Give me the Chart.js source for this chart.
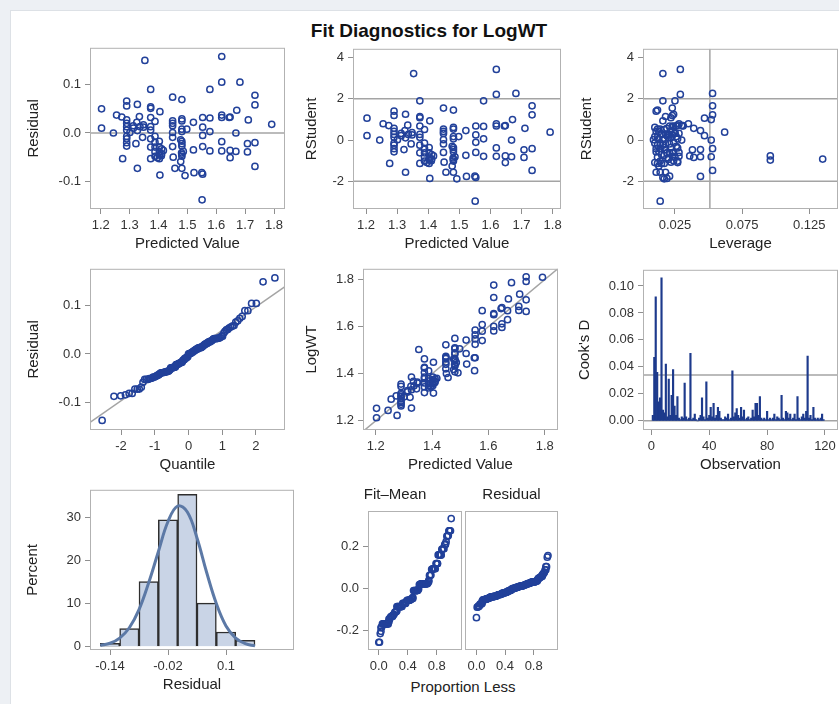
<!DOCTYPE html>
<html>
<head>
<meta charset="utf-8">
<title>Fit Diagnostics for LogWT</title>
<script src="https://cdn.jsdelivr.net/npm/chart.js@4.4.1/dist/chart.umd.min.js"></script>
<style>
  html, body { margin: 0; padding: 0; }
  body { width: 839px; height: 704px; overflow: hidden; background: #edf0f4; position: relative;
         font-family: "Liberation Sans", Arial, sans-serif; }
  #sheet { position: absolute; left: 10px; top: 10px; width: 840px; height: 700px; background: #fff;
           border-left: 1px solid #dde1e6; border-top: 1px solid #dde1e6; }
  canvas { position: absolute; }
  .label { position: absolute; transform: translate(-50%, -50%); white-space: nowrap; color: #111; }
  #title { left: 429px; top: 31px; font-weight: bold; font-size: 19px; }
  #propLess { left: 463px; top: 686px; font-size: 15px; color: #222; }
</style>
</head>
<body>
<div id="sheet"></div>
<div id="title" class="label">Fit Diagnostics for LogWT</div>
<div id="propLess" class="label">Proportion Less</div>
<script>
// Fit diagnostics panel for LogWT

// ---- per observation values ----
const predicted = [
  1.353, 1.619, 1.619, 1.682, 1.373, 1.578, 1.734, 1.449, 1.481, 1.290,
  1.290, 1.327, 1.373, 1.373, 1.734, 1.203, 1.405, 1.671, 1.255, 1.273,
  1.334, 1.373, 1.619, 1.619, 1.648, 1.553, 1.578, 1.711, 1.481, 1.481,
  1.449, 1.449, 1.290, 1.290, 1.325, 1.388, 1.521, 1.792, 1.203, 1.290,
  1.313, 1.336, 1.348, 1.373, 1.553, 1.498, 1.481, 1.449, 1.244, 1.301,
  1.327, 1.449, 1.481, 1.578, 1.668, 1.290, 1.313, 1.348, 1.373, 1.645,
  1.290, 1.290, 1.345, 1.388, 1.553, 1.290, 1.290, 1.322, 1.373, 1.403,
  1.388, 1.481, 1.481, 1.477, 1.619, 1.708, 1.734, 1.373, 1.388, 1.411,
  1.449, 1.481, 1.486, 1.521, 1.553, 1.578, 1.619, 1.648, 1.668, 1.708,
  1.403, 1.449, 1.403, 1.417, 1.388, 1.480, 1.411, 1.403, 1.388, 1.373,
  1.403, 1.451, 1.276, 1.481, 1.477, 1.648, 1.327, 1.457, 1.481, 1.734,
  1.481, 1.396, 1.410, 1.405, 1.492, 1.523, 1.550, 1.553, 1.551
];
const residual = [
  0.150, 0.158, 0.105, 0.105, 0.090, 0.090, 0.078, 0.074, 0.069, 0.066,
  0.056, 0.059, 0.054, 0.051, 0.058, 0.050, 0.044, 0.047, 0.037, 0.033,
  0.034, 0.032, 0.037, 0.032, 0.033, 0.032, 0.031, 0.027, 0.029, 0.025,
  0.025, 0.020, 0.027, 0.020, 0.022, 0.024, 0.022, 0.018, 0.010, 0.013,
  0.015, 0.013, 0.012, 0.013, 0.012, 0.008, 0.008, 0.015, 0.000, 0.001,
  0.005, 0.001, 0.003, 0.003, 0.000, 0.006, 0.010, 0.017, 0.006, 0.032,
  -0.007, -0.012, -0.009, -0.007, -0.005, -0.020, -0.027, -0.022, -0.012, -0.017,
  -0.019, -0.017, -0.022, -0.014, -0.018, -0.022, -0.020, -0.029, -0.029, -0.033,
  -0.028, -0.027, -0.038, -0.035, -0.028, -0.037, -0.037, -0.036, -0.038, -0.039,
  -0.039, -0.009, -0.029, -0.036, -0.039, -0.041, -0.043, -0.045, -0.048, -0.053,
  -0.053, -0.050, -0.053, -0.048, -0.059, -0.051, -0.073, -0.073, -0.073, -0.069,
  -0.044, -0.051, -0.047, -0.087, -0.088, -0.082, -0.082, -0.085, -0.138
];
const rstudent = [
  3.22, 3.42, 2.21, 2.26, 1.90, 1.90, 1.66, 1.55, 1.45, 1.40,
  1.19, 1.25, 1.14, 1.08, 1.22, 1.06, 0.93, 0.99, 0.79, 0.70,
  0.72, 0.68, 0.78, 0.68, 0.70, 0.68, 0.66, 0.57, 0.61, 0.53,
  0.53, 0.42, 0.57, 0.42, 0.46, 0.51, 0.46, 0.38, 0.21, 0.27,
  0.32, 0.27, 0.25, 0.27, 0.25, 0.17, 0.17, 0.32, 0.00, 0.02,
  0.11, 0.02, 0.06, 0.06, 0.00, 0.13, 0.21, 0.36, 0.13, 0.68,
  -0.15, -0.25, -0.19, -0.15, -0.11, -0.42, -0.57, -0.46, -0.25, -0.36,
  -0.40, -0.36, -0.46, -0.30, -0.38, -0.47, -0.42, -0.62, -0.62, -0.70,
  -0.60, -0.57, -0.81, -0.74, -0.60, -0.79, -0.79, -0.77, -0.81, -0.84,
  -0.83, -0.19, -0.62, -0.77, -0.83, -0.87, -0.92, -0.97, -1.02, -1.13,
  -1.13, -1.07, -1.13, -1.02, -1.26, -1.09, -1.56, -1.56, -1.56, -1.47,
  -0.94, -1.09, -1.00, -1.86, -1.88, -1.76, -1.75, -1.81, -2.96
];
const leverage = [
  0.016, 0.029, 0.029, 0.053, 0.016, 0.025, 0.053, 0.023, 0.012, 0.011,
  0.023, 0.024, 0.018, 0.022, 0.053, 0.047, 0.016, 0.052, 0.035, 0.030,
  0.027, 0.024, 0.028, 0.026, 0.031, 0.021, 0.023, 0.039, 0.010, 0.012,
  0.014, 0.011, 0.019, 0.013, 0.044, 0.017, 0.022, 0.062, 0.047, 0.021,
  0.025, 0.018, 0.023, 0.015, 0.020, 0.010, 0.026, 0.028, 0.052, 0.016,
  0.022, 0.009, 0.013, 0.027, 0.030, 0.012, 0.019, 0.025, 0.020, 0.031,
  0.014, 0.016, 0.021, 0.010, 0.024, 0.011, 0.013, 0.018, 0.012, 0.022,
  0.014, 0.017, 0.044, 0.026, 0.027, 0.038, 0.053, 0.019, 0.023, 0.015,
  0.028, 0.011, 0.044, 0.017, 0.024, 0.023, 0.028, 0.036, 0.052, 0.039,
  0.012, 0.018, 0.021, 0.096, 0.025, 0.020, 0.135, 0.096, 0.014, 0.012,
  0.017, 0.022, 0.015, 0.027, 0.013, 0.027, 0.011, 0.014, 0.018, 0.053,
  0.020, 0.010, 0.024, 0.019, 0.017, 0.044, 0.021, 0.016, 0.014
];
const logWT = [
  1.503, 1.777, 1.724, 1.787, 1.463, 1.668, 1.812, 1.523, 1.550, 1.356,
  1.346, 1.386, 1.427, 1.424, 1.792, 1.253, 1.449, 1.718, 1.292, 1.306,
  1.368, 1.405, 1.656, 1.651, 1.681, 1.585, 1.609, 1.738, 1.510, 1.506,
  1.474, 1.469, 1.317, 1.310, 1.347, 1.412, 1.543, 1.810, 1.213, 1.303,
  1.328, 1.349, 1.360, 1.386, 1.565, 1.506, 1.489, 1.464, 1.244, 1.302,
  1.332, 1.450, 1.484, 1.581, 1.668, 1.296, 1.323, 1.365, 1.379, 1.677,
  1.283, 1.278, 1.336, 1.381, 1.548, 1.270, 1.263, 1.300, 1.361, 1.386,
  1.369, 1.464, 1.459, 1.463, 1.601, 1.686, 1.714, 1.344, 1.359, 1.378,
  1.421, 1.454, 1.448, 1.486, 1.525, 1.541, 1.582, 1.612, 1.630, 1.669,
  1.364, 1.440, 1.374, 1.381, 1.349, 1.439, 1.368, 1.358, 1.340, 1.320,
  1.350, 1.401, 1.223, 1.433, 1.418, 1.597, 1.254, 1.384, 1.408, 1.665,
  1.437, 1.345, 1.363, 1.318, 1.404, 1.441, 1.468, 1.468, 1.413
];
const cooksD = [
  0.004, 0.047, 0.092, 0.036, 0.014, 0.017, 0.106, 0.008, 0.006, 0.042,
  0.003, 0.031, 0.004, 0.019, 0.038, 0.011, 0.004, 0.018, 0.002, 0.001,
  0.003, 0.002, 0.028, 0.003, 0.001, 0.002, 0.050, 0.001, 0.002, 0.005,
  0.001, 0.000, 0.002, 0.004, 0.017, 0.003, 0.001, 0.029, 0.002, 0.004,
  0.010, 0.003, 0.013, 0.002, 0.004, 0.010, 0.007, 0.002, 0.001, 0.001,
  0.003, 0.002, 0.005, 0.001, 0.002, 0.037, 0.003, 0.006, 0.009, 0.004,
  0.002, 0.010, 0.003, 0.008, 0.001, 0.002, 0.003, 0.001, 0.002, 0.008,
  0.003, 0.013, 0.013, 0.004, 0.018, 0.002, 0.001, 0.002, 0.001, 0.007,
  0.001, 0.002, 0.001, 0.002, 0.005, 0.001, 0.003, 0.002, 0.001, 0.019,
  0.002, 0.001, 0.007, 0.006, 0.002, 0.005, 0.001, 0.002, 0.005, 0.001,
  0.018, 0.002, 0.001, 0.003, 0.005, 0.002, 0.007, 0.048, 0.002, 0.004,
  0.001, 0.010, 0.002, 0.001, 0.002, 0.001, 0.002, 0.005, 0.001
];

// ---- sorted views (Q-Q and residual-fit spread) ----
const normalQuantile = [
  -2.56, -2.21, -2.01, -1.87, -1.76, -1.67, -1.59, -1.52, -1.46, -1.40,
  -1.35, -1.30, -1.25, -1.20, -1.16, -1.12, -1.08, -1.05, -1.01, -0.98,
  -0.94, -0.91, -0.88, -0.85, -0.82, -0.79, -0.76, -0.73, -0.71, -0.68,
  -0.65, -0.63, -0.60, -0.58, -0.55, -0.53, -0.50, -0.48, -0.46, -0.43,
  -0.41, -0.39, -0.37, -0.34, -0.32, -0.30, -0.28, -0.26, -0.23, -0.21,
  -0.19, -0.17, -0.15, -0.13, -0.11, -0.08, -0.06, -0.04, -0.02, 0.00,
  0.02, 0.04, 0.06, 0.08, 0.11, 0.13, 0.15, 0.17, 0.19, 0.21,
  0.23, 0.26, 0.28, 0.30, 0.32, 0.34, 0.37, 0.39, 0.41, 0.43,
  0.46, 0.48, 0.50, 0.53, 0.55, 0.58, 0.60, 0.63, 0.65, 0.68,
  0.71, 0.73, 0.76, 0.79, 0.82, 0.85, 0.88, 0.91, 0.94, 0.98,
  1.01, 1.05, 1.08, 1.12, 1.16, 1.20, 1.25, 1.30, 1.35, 1.40,
  1.46, 1.52, 1.59, 1.67, 1.76, 1.87, 2.01, 2.21, 2.56
];
const proportionLess = [
  0.00, 0.01, 0.02, 0.03, 0.03, 0.04, 0.05, 0.06, 0.07, 0.08,
  0.08, 0.09, 0.10, 0.11, 0.12, 0.13, 0.14, 0.14, 0.15, 0.16,
  0.17, 0.18, 0.19, 0.19, 0.20, 0.21, 0.22, 0.23, 0.24, 0.25,
  0.25, 0.26, 0.27, 0.28, 0.29, 0.30, 0.31, 0.31, 0.32, 0.33,
  0.34, 0.35, 0.36, 0.36, 0.37, 0.38, 0.39, 0.40, 0.41, 0.42,
  0.42, 0.43, 0.44, 0.45, 0.46, 0.47, 0.47, 0.48, 0.49, 0.50,
  0.51, 0.52, 0.53, 0.53, 0.54, 0.55, 0.56, 0.57, 0.58, 0.58,
  0.59, 0.60, 0.61, 0.62, 0.63, 0.64, 0.64, 0.65, 0.66, 0.67,
  0.68, 0.69, 0.69, 0.70, 0.71, 0.72, 0.73, 0.74, 0.75, 0.75,
  0.76, 0.77, 0.78, 0.79, 0.80, 0.81, 0.81, 0.82, 0.83, 0.84,
  0.85, 0.86, 0.86, 0.87, 0.88, 0.89, 0.90, 0.91, 0.92, 0.92,
  0.93, 0.94, 0.95, 0.96, 0.97, 0.97, 0.98, 0.99, 1.00
];
const fitMinusMean = [
  -0.255, -0.255, -0.214, -0.203, -0.185, -0.182, -0.168, -0.168, -0.168, -0.168,
  -0.168, -0.168, -0.168, -0.168, -0.168, -0.168, -0.157, -0.145, -0.145, -0.136,
  -0.133, -0.131, -0.131, -0.131, -0.124, -0.122, -0.113, -0.110, -0.110, -0.105,
  -0.085, -0.085, -0.085, -0.085, -0.085, -0.085, -0.085, -0.085, -0.085, -0.070,
  -0.070, -0.070, -0.070, -0.070, -0.070, -0.062, -0.055, -0.055, -0.055, -0.055,
  -0.055, -0.053, -0.053, -0.048, -0.047, -0.047, -0.041, -0.009, -0.009, -0.009,
  -0.009, -0.009, -0.009, -0.009, -0.007, -0.001, 0.019, 0.019, 0.022, 0.023,
  0.023, 0.023, 0.023, 0.023, 0.023, 0.023, 0.023, 0.023, 0.023, 0.023,
  0.028, 0.034, 0.040, 0.063, 0.063, 0.065, 0.092, 0.093, 0.095, 0.095,
  0.095, 0.095, 0.095, 0.120, 0.120, 0.120, 0.120, 0.161, 0.161, 0.161,
  0.161, 0.161, 0.161, 0.187, 0.190, 0.190, 0.190, 0.210, 0.210, 0.213,
  0.224, 0.250, 0.250, 0.253, 0.276, 0.276, 0.276, 0.276, 0.334
];

// ---- histogram of residuals ----
const histMid = [-0.14, -0.10, -0.06, -0.02, 0.02, 0.06, 0.10, 0.14];
const histPercent = [0.8, 4.2, 15.1, 29.4, 35.3, 10.1, 3.4, 1.5];
const curveX = [-0.16, -0.14, -0.12, -0.10, -0.08, -0.06, -0.04, -0.02, 0.00,
                0.02, 0.04, 0.06, 0.08, 0.10, 0.12, 0.14, 0.16];
const curvePercent = [0.3, 0.8, 2.0, 4.4, 8.6, 14.8, 22.0, 29.0, 32.6,
                      31.2, 25.2, 17.2, 10.0, 4.8, 2.0, 0.7, 0.2];

// ---- reference lines ----
const rstudentLimits = [-2, 2];
const leverageCutoff = 0.051;
const cooksCutoff = 0.034;
const qqLineQ = [-2.92, 2.86];
const qqLineR = [-0.142, 0.140];

// ---- tick values ----
const ticksPred = [1.2, 1.3, 1.4, 1.5, 1.6, 1.7, 1.8];
const ticksResid = [-0.1, 0, 0.1];
const ticksRstud = [-2, 0, 2, 4];
const ticksLev = [0.025, 0.075, 0.125];
const ticksQuant = [-2, -1, 0, 1, 2];
const ticksLog = [1.2, 1.4, 1.6, 1.8];
const ticksObs = [0, 40, 80, 120];
const ticksCook = [0, 0.02, 0.04, 0.06, 0.08, 0.10];
const ticksPct = [0, 10, 20, 30];
const ticksHist = [-0.14, -0.02, 0.1];
const histTickLabels = ['-0.14', '-0.02', '0.1'];
const ticksProp = [0, 0.4, 0.8];
const ticksSpread = [-0.2, 0, 0.2];

// ---- look ----
const MARKER = '#22419a';
const NEEDLE = '#1d3a8c';
const REF = '#a4a4a4';
const FRAME = '#b2b2b2';
const TICK = '#8f8f8f';
const HIST_FILL = '#c9d4e6';
const HIST_EDGE = '#2e2e2e';
const CURVE = '#5c79a6';

Chart.defaults.font.family = '"Liberation Sans", Arial, sans-serif';
Chart.defaults.color = '#333';

// axis ranges (plot area edges)
const range = {
  pred1: [1.163, 1.838], resid1: [-0.157, 0.176],
  pred2: [1.158, 1.827], rstud: [-3.34, 4.42],
  lev: [0.0012, 0.1464],
  quant: [-2.92, 2.86], resid4: [-0.158, 0.177],
  pred5: [1.155, 1.847], log5: [1.161, 1.846],
  obs: [-5.8, 129], cook: [-0.0068, 0.112],
  hist: [-0.1814, 0.2407], pct: [-0.76, 36.35],
  propA: [-0.149, 1.149], propB: [-0.16, 1.14], spread: [-0.292, 0.37],
};

// plot area boxes on the page
const boxes = {
  resFit:  { l: 90,  t: 46,  r: 285, b: 209, yw: 65 },
  rstuFit: { l: 353, t: 47,  r: 561, b: 209, yw: 50 },
  rstuLev: { l: 643, t: 47,  r: 838, b: 209, yw: 65 },
  qq:      { l: 90,  t: 267, r: 285, b: 430, yw: 65 },
  obsFit:  { l: 363, t: 267, r: 558, b: 430, yw: 60 },
  cooks:   { l: 643, t: 268, r: 838, b: 430, yw: 67 },
  hist:    { l: 90,  t: 488, r: 294, b: 650, yw: 66 },
  rfFit:   { l: 368, t: 511, r: 462, b: 650, yw: 40, title: 'Fit\u2013Mean' },
  rfRes:   { l: 465, t: 511, r: 558, b: 650, yw: 0, padL: 20, title: 'Residual' },
};

const XH = 44;

// box around the plot area
const frame = {
  id: 'frame',
  afterDatasetsDraw(chart) {
    const a = chart.chartArea;
    const ctx = chart.ctx;
    ctx.save();
    ctx.strokeStyle = FRAME;
    ctx.lineWidth = 1;
    ctx.strokeRect(a.left + 0.5, a.top + 0.5, a.right - a.left - 1, a.bottom - a.top - 1);
    ctx.restore();
  }
};

function axis(r, ticks, fmt, title, size, show = true) {
  return {
    type: 'linear',
    display: show,
    min: r[0], max: r[1],
    offset: false,
    afterBuildTicks: (s) => { s.ticks = ticks.map(v => ({ value: v })); },
    afterFit: (s) => { if (s.isHorizontal()) s.height = size; else s.width = size; },
    ticks: { callback: fmt, autoSkip: false, maxRotation: 0, padding: 4, color: '#333', font: { size: 13 } },
    grid: { drawOnChartArea: false, drawTicks: true, tickLength: 5, color: TICK, lineWidth: 1, offset: false },
    border: { display: false },
    title: { display: !!title, text: title, color: '#222', font: { size: 15 }, padding: 0 },
  };
}

const fixed = (n) => (v) => v.toFixed(n);

function points(xs, ys) {
  return {
    type: 'scatter',
    data: xs.map((x, i) => ({ x, y: ys[i] })),
    pointStyle: 'circle', pointRadius: 3.1, pointBorderWidth: 1.5,
    pointBorderColor: MARKER, pointBackgroundColor: 'rgba(0,0,0,0)',
    showLine: false, order: 1,
  };
}

function ref(xs, ys) {
  return {
    type: 'line',
    data: xs.map((x, i) => ({ x, y: ys[i] })),
    borderColor: REF, borderWidth: 1.5, pointRadius: 0, fill: false, order: 3,
  };
}

function panel(id, type, datasets, xAxis, yAxis) {
  const box = boxes[id];
  const top = box.title ? 470 : box.t - 10;
  const left = box.l - box.yw - (box.padL || 0);
  const canvas = document.createElement('canvas');
  canvas.id = id;
  canvas.width = box.r - left + 16;
  canvas.height = box.b - top + XH;
  canvas.style.left = left + 'px';
  canvas.style.top = top + 'px';
  document.body.appendChild(canvas);

  return new Chart(canvas, {
    type,
    data: { datasets },
    options: {
      responsive: false,
      animation: false,
      devicePixelRatio: 1,
      layout: { padding: { top: box.title ? 0 : 10, left: box.padL || 0, right: 16, bottom: 0 } },
      plugins: {
        legend: { display: false },
        tooltip: { enabled: false },
        title: box.title
          ? { display: true, text: box.title, color: '#222', font: { size: 15, weight: 'normal' },
              padding: { top: 16, bottom: box.t - 470 - 16 - 18 } }
          : { display: false },
      },
      scales: { x: xAxis, y: yAxis },
    },
    plugins: [frame],
  });
}

// Residual by predicted value
panel('resFit', 'scatter', [
  points(predicted, residual),
  ref(range.pred1, [0, 0]),
], axis(range.pred1, ticksPred, fixed(1), 'Predicted Value', XH),
   axis(range.resid1, ticksResid, fixed(1), 'Residual', boxes.resFit.yw));

// RStudent by predicted value
panel('rstuFit', 'scatter', [
  points(predicted, rstudent),
  ref(range.pred2, [rstudentLimits[1], rstudentLimits[1]]),
  ref(range.pred2, [rstudentLimits[0], rstudentLimits[0]]),
], axis(range.pred2, ticksPred, fixed(1), 'Predicted Value', XH),
   axis(range.rstud, ticksRstud, fixed(0), 'RStudent', boxes.rstuFit.yw));

// RStudent by leverage
panel('rstuLev', 'scatter', [
  points(leverage, rstudent),
  ref(range.lev, [rstudentLimits[1], rstudentLimits[1]]),
  ref(range.lev, [rstudentLimits[0], rstudentLimits[0]]),
  ref([leverageCutoff, leverageCutoff], range.rstud),
], axis(range.lev, ticksLev, fixed(3), 'Leverage', XH),
   axis(range.rstud, ticksRstud, fixed(0), 'RStudent', boxes.rstuLev.yw));

// Normal quantile plot of residuals
const sortedResidual = [...residual].sort((a, b) => a - b);
panel('qq', 'scatter', [
  points(normalQuantile, sortedResidual),
  ref(qqLineQ, qqLineR),
], axis(range.quant, ticksQuant, fixed(0), 'Quantile', XH),
   axis(range.resid4, ticksResid, fixed(1), 'Residual', boxes.qq.yw));

// Observed by predicted
panel('obsFit', 'scatter', [
  points(predicted, logWT),
  ref(range.pred5, range.pred5),
], axis(range.pred5, ticksLog, fixed(1), 'Predicted Value', XH),
   axis(range.log5, ticksLog, fixed(1), 'LogWT', boxes.obsFit.yw));

// Cook's D by observation
panel('cooks', 'bar', [
  {
    type: 'bar',
    data: cooksD.map((d, i) => ({ x: i + 1, y: d })),
    backgroundColor: NEEDLE, barThickness: 1.5, order: 2,
  },
  ref(range.obs, [0, 0]),
  ref(range.obs, [cooksCutoff, cooksCutoff]),
], axis(range.obs, ticksObs, fixed(0), 'Observation', XH),
   axis(range.cook, ticksCook, fixed(2), "Cook's D", boxes.cooks.yw));

// Histogram of residuals with normal density
panel('hist', 'bar', [
  {
    type: 'bar',
    data: histMid.map((m, i) => ({ x: m, y: histPercent[i] })),
    backgroundColor: HIST_FILL, borderColor: HIST_EDGE, borderWidth: 1.5,
    barPercentage: 1, categoryPercentage: 1, order: 2,
  },
  {
    type: 'line',
    data: curveX.map((x, i) => ({ x, y: curvePercent[i] })),
    borderColor: CURVE, borderWidth: 3, pointRadius: 0, tension: 0.4, fill: false, order: 1,
  },
], axis(range.hist, ticksHist, (v, i) => histTickLabels[i], 'Residual', XH),
   axis(range.pct, ticksPct, fixed(0), 'Percent', boxes.hist.yw));

// Residual-fit spread
panel('rfFit', 'scatter', [
  points(proportionLess, fitMinusMean),
], axis(range.propA, ticksProp, fixed(1), '', XH),
   axis(range.spread, ticksSpread, fixed(1), '', boxes.rfFit.yw));

panel('rfRes', 'scatter', [
  points(proportionLess, sortedResidual),
], axis(range.propB, ticksProp, fixed(1), '', XH),
   axis(range.spread, ticksSpread, fixed(1), '', 0, false));
</script>
</body>
</html>
